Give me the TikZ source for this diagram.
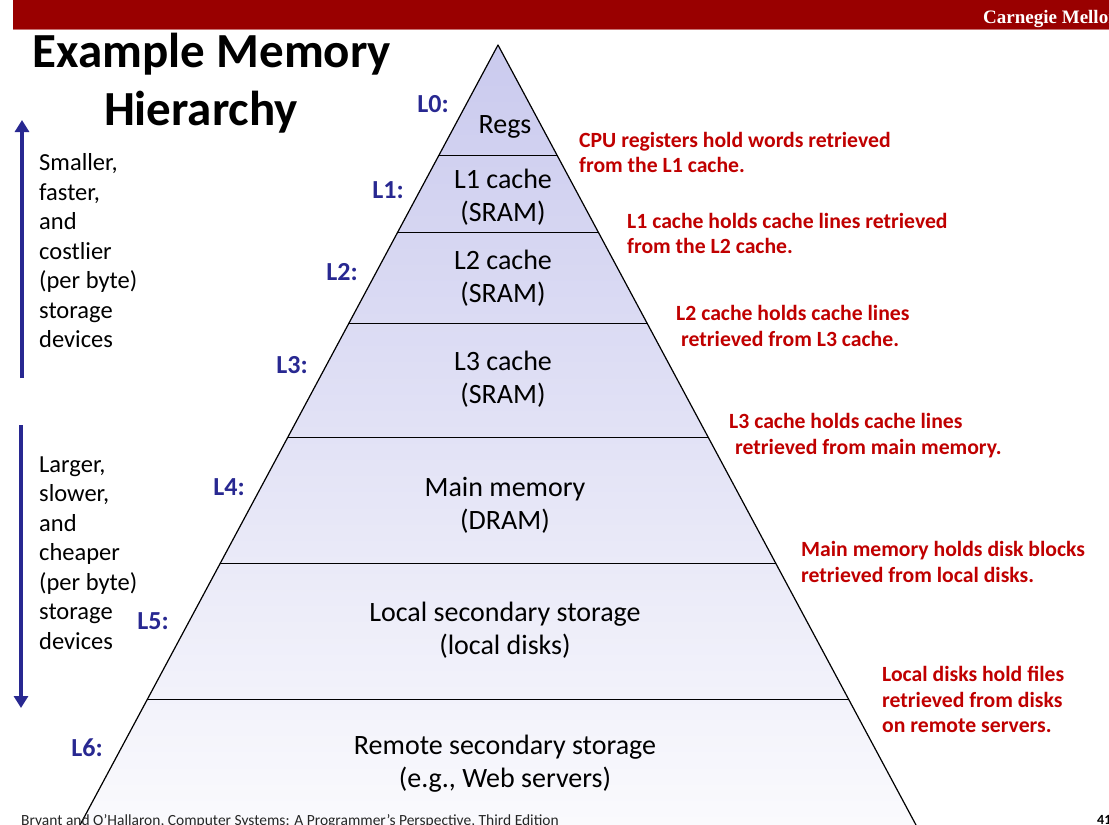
\documentclass[tikz,border=0pt]{standalone}
\usepackage{fontspec}
\setmainfont{Carlito}
\newfontfamily\cmufont{Liberation Serif}
\usetikzlibrary{calc,arrows.meta}
\definecolor{cmured}{RGB}{153,0,0}
\definecolor{notered}{RGB}{192,0,0}
\definecolor{levelblue}{RGB}{40,40,145}
\definecolor{pyrtop}{RGB}{202,202,238}
\definecolor{pyrbot}{RGB}{250,250,253}

\begin{document}
\begin{tikzpicture}[x=1pt,y=-1pt,
  tier/.style={font=\fontsize{28}{33}\selectfont, align=center, inner sep=0pt},
  lvl/.style={font=\fontsize{26}{30}\selectfont\bfseries, text=levelblue, inner sep=0pt},
  note/.style={font=\fontsize{21.7}{25.5}\selectfont\bfseries, text=notered, align=left, anchor=west, inner sep=0pt},
  side/.style={font=\fontsize{24.5}{29.5}\selectfont, align=left, anchor=west, inner sep=0pt},
  trend/.style={draw=levelblue, line width=3.5pt, -{Triangle[width=14pt,length=12pt]}},
  divider/.style={draw=black, line width=1pt}
]
\useasboundingbox (0,0) rectangle (1109,825);
\clip (0,0) rectangle (1109,825);
\fill[white] (0,0) rectangle (1109,825);

% header bar
\fill[cmured] (13,0) rectangle (1109,29);
\draw[cmured!55, line width=1pt] (13,29.5) -- (1109,29.5);
\node[anchor=base west, text=white, font=\cmufont\bfseries\fontsize{19}{20}\selectfont, inner sep=0pt] (brand) at (983,23) {Carnegie Mellon};

% title
\node[font=\fontsize{49}{55}\selectfont\bfseries, anchor=base, inner sep=0pt] (title1) at (212,67) {Example Memory};
\node[font=\fontsize{49}{55}\selectfont\bfseries, anchor=base, inner sep=0pt] (title2) at (201,125) {Hierarchy};

% pyramid
\coordinate (apex) at (498,45);
\coordinate (bl) at (80,825);
\coordinate (br) at (916,825);
\shade[top color=pyrtop, bottom color=pyrbot] (apex) -- (br) -- (bl) -- cycle;
\draw[line width=1.2pt, line join=round] (bl) -- (apex) -- (br);
\foreach \y in {155,233,324,437,564,699}
  \draw[divider] ($(apex)!{(\y-45)/780}!(bl)$) -- ($(apex)!{(\y-45)/780}!(br)$);

% tiers
\node[tier] (regs) at (505,127) {Regs};
\node[tier] (l1) at (503,197.5) {L1 cache\\(SRAM)};
\node[tier] (l2) at (503,278.5) {L2 cache\\(SRAM)};
\node[tier] (l3) at (503,379.5) {L3 cache\\(SRAM)};
\node[tier] (dram) at (505,505.5) {Main memory\\(DRAM)};
\node[tier] (disk) at (505,630.5) {Local secondary storage\\(local disks)};
\node[tier] (remote) at (505,763.5) {Remote secondary storage\\(e.g., Web servers)};

% level labels
\node[lvl] (lv0) at (433,104) {L0:};
\node[lvl] (lv1) at (388,190) {L1:};
\node[lvl] (lv2) at (342,272) {L2:};
\node[lvl] (lv3) at (292,365) {L3:};
\node[lvl] (lv4) at (229,487) {L4:};
\node[lvl] (lv5) at (153,621) {L5:};
\node[lvl] (lv6) at (87,748) {L6:};

% notes on the right
\node[note] (n0) at (579,152.5) {CPU registers hold words retrieved\\from the L1 cache.};
\node[note] (n1) at (627,233.5) {L1 cache holds cache lines retrieved\\from the L2 cache.};
\node[note] (n2) at (676,326) {L2 cache holds cache lines\\\hspace*{5pt}retrieved from L3 cache.};
\node[note] (n3) at (729,435.5) {L3 cache holds cache lines\\\hspace*{6pt}retrieved from main memory.};
\node[note] (n4) at (801,562) {Main memory holds disk blocks\\retrieved from local disks.};
\node[note] (n5) at (882,699.5) {Local disks hold files\\retrieved from disks\\on remote servers.};

% trends on the left
\coordinate (upS) at (22,378);
\coordinate (upE) at (22,120);
\draw[trend] (upS) -- (upE);
\coordinate (dnS) at (21,425);
\coordinate (dnE) at (21,708);
\draw[trend] (dnS) -- (dnE);
\node[side] (fast) at (39,251) {Smaller,\\faster,\\and\\costlier\\(per byte)\\storage\\devices};
\node[side] (slow) at (39,553) {Larger,\\slower,\\and\\cheaper\\(per byte)\\storage\\devices};

% footer
\node[anchor=base west, font=\fontsize{15.5}{17}\selectfont, text=black!85, inner sep=0pt] (credit) at (21,825) {Bryant and O’Hallaron, Computer Systems: A Programmer’s Perspective, Third Edition};
\node[anchor=base west, font=\bfseries\fontsize{14}{16}\selectfont, inner sep=0pt] (page) at (1097,824) {41};
\end{tikzpicture}
\end{document}
